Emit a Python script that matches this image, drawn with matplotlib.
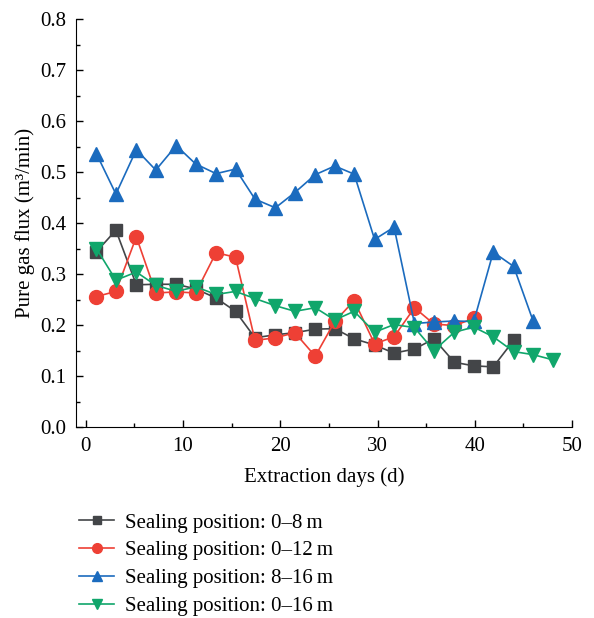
import matplotlib
matplotlib.use("Agg")
import matplotlib.pyplot as plt
from matplotlib.ticker import MultipleLocator

plt.rcParams['font.family'] = ['Liberation Serif', 'DejaVu Serif']
plt.rcParams['font.size'] = 15

# positions of the points along the x axis
days = [1.1, 3.1, 5.2, 7.2, 9.3, 11.3, 13.4, 15.4, 17.4, 19.5, 21.5, 23.6,
        25.6, 27.6, 29.7, 31.7, 33.8, 35.8, 37.9, 39.9, 41.9, 44.0, 46.0, 48.0]

flux_0_8 = [0.344, 0.386, 0.279, 0.280, 0.280, 0.271, 0.253, 0.227, 0.175, 0.181,
            0.185, 0.192, 0.193, 0.173, 0.161, 0.145, 0.153, 0.173, 0.127, 0.120,
            0.118, 0.170]
flux_0_12 = [0.256, 0.266, 0.373, 0.263, 0.265, 0.263, 0.342, 0.333, 0.170, 0.175,
             0.185, 0.139, 0.207, 0.248, 0.163, 0.177, 0.234, 0.202, 0.199, 0.213]
flux_8_16 = [0.536, 0.457, 0.544, 0.504, 0.552, 0.516, 0.497, 0.506, 0.447, 0.430,
             0.460, 0.495, 0.512, 0.496, 0.368, 0.392, 0.203, 0.206, 0.208, 0.207,
             0.343, 0.315, 0.208]
flux_0_16 = [0.350, 0.288, 0.304, 0.278, 0.266, 0.275, 0.260, 0.266, 0.252, 0.238,
             0.227, 0.234, 0.210, 0.227, 0.186, 0.201, 0.195, 0.150, 0.186, 0.196,
             0.177, 0.148, 0.142, 0.132]

labels = ["Sealing position: 0\u20138\u2009m",
          "Sealing position: 0\u201312\u2009m",
          "Sealing position: 8\u201316\u2009m",
          "Sealing position: 0\u201316\u2009m"]

fig = plt.figure(figsize=(5.94, 6.18), dpi=100)
ax = fig.add_axes([0.128, 0.309, 0.835, 0.66])

ax.plot(days[:len(flux_0_8)], flux_0_8, color='#434548', marker='s', ms=9,
        lw=1.2, label=labels[0])
ax.plot(days[:len(flux_0_12)], flux_0_12, color='#ee4035', marker='o', ms=10,
        lw=1.2, label=labels[1])
ax.plot(days[:len(flux_8_16)], flux_8_16, color='#1b6bbe', marker='^', ms=10,
        lw=1.2, label=labels[2])
ax.plot(days[:len(flux_0_16)], flux_0_16, color='#10a66b', marker='v', ms=10,
        lw=1.2, label=labels[3])

ax.set_xlim(-1, 50)
ax.set_ylim(0, 0.8)
ax.xaxis.set_major_locator(MultipleLocator(10))
ax.xaxis.set_minor_locator(MultipleLocator(5))
ax.yaxis.set_major_locator(MultipleLocator(0.1))
ax.yaxis.set_minor_locator(MultipleLocator(0.05))
ax.yaxis.set_major_formatter(plt.FormatStrFormatter('%.1f'))
ax.tick_params(which='both', direction='in', width=1)
ax.tick_params(which='major', length=5, labelsize=15, pad=7)
ax.tick_params(which='minor', length=3)
ax.spines['top'].set_visible(False)
ax.spines['right'].set_visible(False)

ax.set_xlabel("Extraction days (d)", fontsize=15, labelpad=8)
ax.set_ylabel("Pure gas flux (m\u00b3/min)", fontsize=15, labelpad=4)

fig.legend(loc='upper left', bbox_to_anchor=(0.133, 0.170), frameon=False,
           fontsize=15, handlelength=1.7, handletextpad=0.5, markerscale=0.7,
           labelspacing=0.4, borderaxespad=0, borderpad=0)

fig.savefig("out.png", dpi=100)
